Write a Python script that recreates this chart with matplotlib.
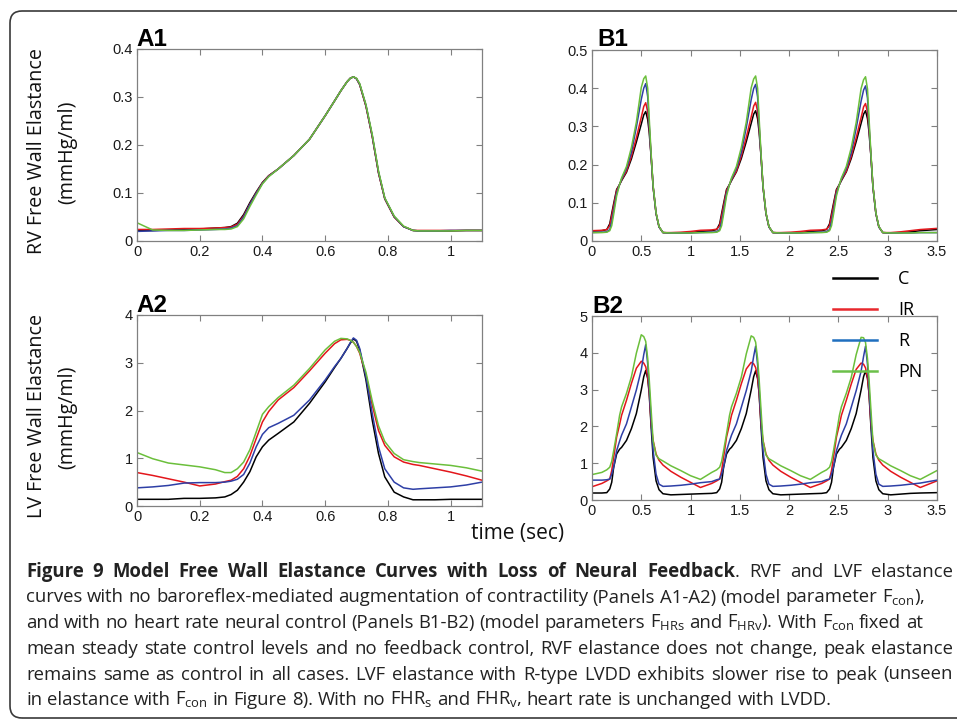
import matplotlib
matplotlib.use('Agg')
import matplotlib.pyplot as plt
from matplotlib.lines import Line2D
from matplotlib.patches import FancyBboxPatch
from matplotlib.transforms import IdentityTransform

W, H = 957, 720
plt.rcParams['font.family'] = ['Liberation Sans', 'DejaVu Sans']
OPEN = ['Open Sans', 'DejaVu Sans']

# ---------------- data ----------------
SERIES = ['C', 'IR', 'R', 'PN']

A_T = [0.00, 0.05, 0.10, 0.15, 0.20, 0.25, 0.28, 0.30, 0.32, 0.34, 0.36, 0.38, 0.40,
       0.42, 0.45, 0.50, 0.55, 0.60, 0.63, 0.65, 0.67, 0.68, 0.69, 0.70, 0.71, 0.73,
       0.75, 0.77, 0.79, 0.82, 0.85, 0.88, 0.90, 0.95, 1.00, 1.05, 1.10]

A1_C = [0.022, 0.022, 0.023, 0.024, 0.025, 0.027, 0.028, 0.030, 0.037, 0.055, 0.080, 0.102, 0.122,
        0.136, 0.150, 0.178, 0.212, 0.261, 0.292, 0.313, 0.332, 0.339, 0.342, 0.338, 0.326, 0.281,
        0.218, 0.142, 0.088, 0.050, 0.030, 0.022, 0.021, 0.021, 0.021, 0.022, 0.022]
A1_IR = [0.024, 0.024, 0.025, 0.026, 0.026, 0.027, 0.028, 0.029, 0.035, 0.052, 0.077, 0.100, 0.121,
         0.136, 0.150, 0.178, 0.212, 0.261, 0.292, 0.313, 0.332, 0.339, 0.342, 0.338, 0.326, 0.281,
         0.218, 0.142, 0.088, 0.050, 0.030, 0.022, 0.022, 0.022, 0.022, 0.022, 0.022]
A1_R = [0.020, 0.021, 0.022, 0.022, 0.023, 0.024, 0.025, 0.027, 0.032, 0.050, 0.076, 0.099, 0.120,
        0.135, 0.150, 0.178, 0.212, 0.261, 0.292, 0.313, 0.332, 0.339, 0.342, 0.338, 0.327, 0.283,
        0.220, 0.144, 0.089, 0.051, 0.030, 0.022, 0.021, 0.021, 0.022, 0.022, 0.022]
A1_PN = [0.038, 0.023, 0.022, 0.022, 0.023, 0.024, 0.024, 0.025, 0.030, 0.046, 0.072, 0.096, 0.119,
         0.134, 0.150, 0.178, 0.212, 0.261, 0.292, 0.313, 0.332, 0.339, 0.342, 0.339, 0.328, 0.284,
         0.222, 0.146, 0.090, 0.052, 0.031, 0.022, 0.021, 0.021, 0.021, 0.022, 0.022]

A2_C = [0.14, 0.14, 0.14, 0.16, 0.16, 0.17, 0.19, 0.24, 0.33, 0.50, 0.72, 1.03, 1.24,
        1.38, 1.52, 1.76, 2.15, 2.60, 2.90, 3.09, 3.30, 3.41, 3.50, 3.45, 3.27, 2.64,
        1.80, 1.10, 0.61, 0.29, 0.19, 0.13, 0.13, 0.13, 0.14, 0.14, 0.14]
A2_IR = [0.70, 0.64, 0.57, 0.50, 0.42, 0.46, 0.51, 0.54, 0.62, 0.78, 1.05, 1.41, 1.76,
         1.98, 2.22, 2.48, 2.83, 3.20, 3.40, 3.48, 3.49, 3.47, 3.43, 3.34, 3.20, 2.75,
         2.12, 1.58, 1.27, 1.03, 0.92, 0.87, 0.85, 0.78, 0.71, 0.63, 0.54]
A2_R = [0.38, 0.40, 0.43, 0.48, 0.49, 0.49, 0.50, 0.52, 0.56, 0.66, 0.90, 1.24, 1.50,
        1.64, 1.73, 1.90, 2.22, 2.64, 2.92, 3.09, 3.30, 3.42, 3.52, 3.47, 3.30, 2.71,
        1.94, 1.24, 0.78, 0.50, 0.38, 0.35, 0.36, 0.38, 0.40, 0.44, 0.50]
A2_PN = [1.12, 0.99, 0.90, 0.86, 0.82, 0.76, 0.70, 0.70, 0.78, 0.92, 1.18, 1.55, 1.92,
         2.08, 2.27, 2.53, 2.88, 3.27, 3.45, 3.51, 3.50, 3.47, 3.43, 3.34, 3.22, 2.80,
         2.20, 1.68, 1.35, 1.10, 0.97, 0.93, 0.91, 0.88, 0.85, 0.80, 0.73]

B_T = ([0.00, 0.10, 0.15, 0.18, 0.20, 0.22, 0.25, 0.28, 0.30, 0.35, 0.40, 0.45, 0.50,
        0.525, 0.545, 0.565, 0.58, 0.60, 0.62, 0.65, 0.68, 0.72, 0.80, 0.90, 1.00, 1.10]
       + [1.215, 1.265, 1.295, 1.315, 1.335, 1.365, 1.395, 1.415, 1.465, 1.515, 1.565, 1.615,
          1.64, 1.66, 1.68, 1.695, 1.715, 1.735, 1.765, 1.795, 1.835, 1.915, 2.015, 2.115, 2.215]
       + [2.33, 2.38, 2.41, 2.43, 2.45, 2.48, 2.51, 2.53, 2.58, 2.63, 2.68, 2.73, 2.755,
          2.775, 2.795, 2.81, 2.83, 2.85, 2.88, 2.91, 2.95, 3.03, 3.13, 3.23, 3.33, 3.50])

B1_C = ([0.026, 0.027, 0.030, 0.045, 0.072, 0.098, 0.135, 0.148, 0.158, 0.180, 0.215, 0.259, 0.306,
         0.330, 0.339, 0.318, 0.285, 0.220, 0.142, 0.072, 0.037, 0.022, 0.021, 0.021, 0.022, 0.025]
        + [0.027, 0.030, 0.045, 0.072, 0.098, 0.135, 0.148, 0.158, 0.181, 0.216, 0.260, 0.308,
           0.332, 0.341, 0.320, 0.286, 0.221, 0.142, 0.072, 0.037, 0.022, 0.021, 0.021, 0.022, 0.025]
        + [0.027, 0.030, 0.045, 0.072, 0.098, 0.135, 0.148, 0.158, 0.181, 0.216, 0.260, 0.308,
           0.332, 0.341, 0.320, 0.286, 0.221, 0.142, 0.072, 0.037, 0.022, 0.021, 0.022, 0.024, 0.027, 0.030])
B1_IR = ([0.027, 0.028, 0.030, 0.040, 0.065, 0.092, 0.132, 0.148, 0.160, 0.183, 0.222, 0.270, 0.324,
          0.352, 0.362, 0.338, 0.298, 0.222, 0.142, 0.072, 0.037, 0.022, 0.022, 0.023, 0.025, 0.028]
         + [0.029, 0.031, 0.040, 0.065, 0.092, 0.132, 0.148, 0.160, 0.183, 0.223, 0.271, 0.325,
            0.353, 0.363, 0.339, 0.298, 0.222, 0.142, 0.072, 0.037, 0.022, 0.022, 0.023, 0.025, 0.028]
         + [0.029, 0.031, 0.040, 0.065, 0.092, 0.132, 0.148, 0.160, 0.183, 0.222, 0.270, 0.323,
            0.351, 0.360, 0.337, 0.297, 0.222, 0.142, 0.072, 0.037, 0.022, 0.022, 0.024, 0.027, 0.030, 0.033])
B1_R = ([0.022, 0.023, 0.024, 0.030, 0.050, 0.080, 0.125, 0.148, 0.162, 0.190, 0.232, 0.298, 0.371,
         0.400, 0.412, 0.378, 0.306, 0.222, 0.142, 0.072, 0.037, 0.022, 0.021, 0.021, 0.021, 0.022]
        + [0.023, 0.024, 0.030, 0.050, 0.080, 0.125, 0.148, 0.162, 0.190, 0.232, 0.297, 0.370,
           0.399, 0.410, 0.377, 0.306, 0.222, 0.142, 0.072, 0.037, 0.022, 0.021, 0.021, 0.021, 0.022]
        + [0.023, 0.024, 0.030, 0.050, 0.080, 0.125, 0.148, 0.162, 0.190, 0.231, 0.295, 0.366,
           0.395, 0.406, 0.374, 0.305, 0.222, 0.142, 0.072, 0.037, 0.022, 0.021, 0.021, 0.021, 0.022, 0.022])
B1_PN = ([0.022, 0.022, 0.023, 0.027, 0.040, 0.070, 0.118, 0.148, 0.165, 0.195, 0.245, 0.311, 0.402,
          0.425, 0.432, 0.400, 0.324, 0.228, 0.145, 0.074, 0.038, 0.022, 0.021, 0.021, 0.021, 0.022]
         + [0.022, 0.023, 0.027, 0.040, 0.070, 0.118, 0.148, 0.165, 0.195, 0.245, 0.311, 0.401,
            0.424, 0.432, 0.400, 0.324, 0.228, 0.145, 0.074, 0.038, 0.022, 0.021, 0.021, 0.021, 0.022]
         + [0.022, 0.023, 0.027, 0.040, 0.070, 0.118, 0.148, 0.165, 0.195, 0.244, 0.310, 0.399,
            0.422, 0.430, 0.398, 0.323, 0.228, 0.145, 0.074, 0.038, 0.022, 0.021, 0.021, 0.021, 0.022, 0.022])

B2_C = ([0.19, 0.19, 0.20, 0.30, 0.48, 0.89, 1.25, 1.38, 1.43, 1.62, 1.94, 2.35, 2.99,
         3.35, 3.52, 3.30, 2.90, 1.98, 1.16, 0.52, 0.28, 0.17, 0.14, 0.15, 0.16, 0.17]
        + [0.18, 0.20, 0.30, 0.48, 0.89, 1.25, 1.38, 1.43, 1.62, 1.94, 2.35, 2.99,
           3.35, 3.51, 3.30, 2.90, 1.98, 1.16, 0.52, 0.28, 0.17, 0.14, 0.15, 0.16, 0.17]
        + [0.18, 0.20, 0.30, 0.48, 0.89, 1.25, 1.38, 1.43, 1.62, 1.94, 2.35, 2.99,
           3.35, 3.51, 3.30, 2.90, 1.98, 1.16, 0.52, 0.28, 0.17, 0.14, 0.16, 0.18, 0.19, 0.20])
B2_IR = ([0.36, 0.45, 0.52, 0.57, 0.80, 1.16, 1.71, 2.05, 2.30, 2.71, 3.17, 3.58, 3.77,
          3.72, 3.62, 3.35, 2.95, 2.07, 1.62, 1.25, 1.08, 0.95, 0.78, 0.62, 0.48, 0.34]
         + [0.45, 0.52, 0.57, 0.80, 1.16, 1.71, 2.05, 2.30, 2.71, 3.16, 3.56, 3.74,
            3.70, 3.60, 3.33, 2.93, 2.07, 1.62, 1.25, 1.08, 0.95, 0.78, 0.62, 0.48, 0.34]
         + [0.45, 0.52, 0.57, 0.80, 1.16, 1.71, 2.05, 2.30, 2.71, 3.15, 3.55, 3.72,
            3.69, 3.59, 3.32, 2.92, 2.07, 1.62, 1.25, 1.08, 0.95, 0.78, 0.62, 0.48, 0.34, 0.52])
B2_R = ([0.54, 0.54, 0.55, 0.57, 0.70, 0.89, 1.34, 1.60, 1.76, 2.07, 2.53, 2.99, 3.54,
         3.95, 4.22, 3.70, 3.05, 2.17, 1.34, 0.70, 0.43, 0.37, 0.38, 0.40, 0.43, 0.47]
        + [0.50, 0.55, 0.57, 0.70, 0.89, 1.34, 1.60, 1.76, 2.07, 2.52, 2.97, 3.50,
           3.90, 4.18, 3.68, 3.05, 2.17, 1.34, 0.70, 0.43, 0.37, 0.38, 0.40, 0.43, 0.47]
        + [0.50, 0.55, 0.57, 0.70, 0.89, 1.34, 1.60, 1.76, 2.07, 2.52, 2.97, 3.50,
           3.90, 4.18, 3.68, 3.05, 2.17, 1.34, 0.70, 0.43, 0.37, 0.38, 0.40, 0.43, 0.46, 0.54])
B2_PN = ([0.69, 0.75, 0.82, 0.89, 1.05, 1.34, 1.80, 2.30, 2.53, 2.90, 3.35, 3.99, 4.49,
          4.44, 4.31, 3.85, 3.30, 2.44, 1.60, 1.22, 1.12, 1.06, 0.93, 0.80, 0.66, 0.56]
         + [0.75, 0.82, 0.89, 1.05, 1.34, 1.80, 2.30, 2.53, 2.90, 3.34, 3.97, 4.46,
            4.42, 4.29, 3.84, 3.30, 2.44, 1.60, 1.22, 1.12, 1.06, 0.93, 0.80, 0.66, 0.56]
         + [0.75, 0.82, 0.89, 1.05, 1.34, 1.80, 2.30, 2.53, 2.90, 3.33, 3.95, 4.42,
            4.41, 4.28, 3.84, 3.30, 2.44, 1.60, 1.22, 1.12, 1.06, 0.93, 0.80, 0.66, 0.56, 0.80])

A_XTICKS = [0, 0.2, 0.4, 0.6, 0.8, 1.0]
A_XTICKLABELS = ['0', '0.2', '0.4', '0.6', '0.8', '1']
B_XTICKS = [0, 0.5, 1.0, 1.5, 2.0, 2.5, 3.0, 3.5]
B_XTICKLABELS = ['0', '0.5', '1', '1.5', '2', '2.5', '3', '3.5']
A1_YTICKS = [0, 0.1, 0.2, 0.3, 0.4]
A1_YTICKLABELS = ['0', '0.1', '0.2', '0.3', '0.4']
B1_YTICKS = [0, 0.1, 0.2, 0.3, 0.4, 0.5]
B1_YTICKLABELS = ['0', '0.1', '0.2', '0.3', '0.4', '0.5']
A2_YTICKS = [0, 1, 2, 3, 4]
A2_YTICKLABELS = ['0', '1', '2', '3', '4']
B2_YTICKS = [0, 1, 2, 3, 4, 5]
B2_YTICKLABELS = ['0', '1', '2', '3', '4', '5']

COLORS = {'C': '#000000', 'IR': '#e3161b', 'R': '#2e3fa6', 'PN': '#6bbf3b'}
LEG_COLORS = {'C': '#000000', 'IR': '#e8282d', 'R': '#1f6fbf', 'PN': '#6cc04a'}

CAPTION = [
    [("Figure 9 Model Free Wall Elastance Curves with Loss of Neural Feedback", 'bold'),
     (". RVF and LVF elastance", 'normal')],
    [("curves with no baroreflex-mediated augmentation of contractility (Panels A1-A2) "
      "(model parameter F$_\\mathregular{con}$),", 'normal')],
    [("and with no heart rate neural control (Panels B1-B2) (model parameters "
      "F$_\\mathregular{HRs}$ and F$_\\mathregular{HRv}$). With F$_\\mathregular{con}$ fixed at", 'normal')],
    [("mean steady state control levels and no feedback control, RVF elastance does not "
      "change, peak elastance", 'normal')],
    [("remains same as control in all cases. LVF elastance with R-type LVDD exhibits slower "
      "rise to peak (unseen", 'normal')],
    [("in elastance with F$_\\mathregular{con}$ in Figure 8). With no FHR$_\\mathregular{s}$ "
      "and FHR$_\\mathregular{v}$, heart rate is unchanged with LVDD.", 'normal')],
]
CAP_BASELINES = [577, 602.5, 628, 654, 679.5, 705]
CAP_ENDS = [953, None, None, 953, 953, None]
CAP_MAX_END = 950
CAP_X0 = 26
LINE6_END = 857

# ---------------- figure ----------------
fig = plt.figure(figsize=(W / 100, H / 100), dpi=100)
fig.patch.set_facecolor('white')


def fx(px):
    return px / W


def fy(py):
    return 1 - py / H


def make_ax(l, t, r, b):
    return fig.add_axes([fx(l), fy(b), (r - l) / W, (b - t) / H])


def style(ax, xlim, ylim, xt, xtl, yt, ytl):
    ax.set_xlim(xlim)
    ax.set_ylim(ylim)
    ax.set_xticks(xt)
    ax.set_xticklabels(xtl)
    ax.set_yticks(yt)
    ax.set_yticklabels(ytl)
    ax.tick_params(direction='in', top=True, right=True, length=4, width=0.8,
                   color='#808080', labelsize=10.5, labelcolor='#1a1a1a', pad=3)
    for s in ax.spines.values():
        s.set_color('#808080')
        s.set_linewidth(0.9)


axA1 = make_ax(137, 49, 482, 241)
axB1 = make_ax(592, 50, 937, 241)
axA2 = make_ax(137, 315, 482, 506)
axB2 = make_ax(592, 316, 937, 500)

panels = [
    (axA1, A_T, [A1_C, A1_IR, A1_R, A1_PN]),
    (axB1, B_T, [B1_C, B1_IR, B1_R, B1_PN]),
    (axA2, A_T, [A2_C, A2_IR, A2_R, A2_PN]),
    (axB2, B_T, [B2_C, B2_IR, B2_R, B2_PN]),
]
for ax, t, ys in panels:
    for name, y in zip(SERIES, ys):
        n = min(len(t), len(y))
        ax.plot(t[:n], y[:n], color=COLORS[name], lw=1.1, solid_joinstyle='round')

style(axA1, (0, 1.1), (0, 0.4), A_XTICKS, A_XTICKLABELS, A1_YTICKS, A1_YTICKLABELS)
style(axB1, (0, 3.5), (0, 0.5), B_XTICKS, B_XTICKLABELS, B1_YTICKS, B1_YTICKLABELS)
style(axA2, (0, 1.1), (0, 4), A_XTICKS, A_XTICKLABELS, A2_YTICKS, A2_YTICKLABELS)
style(axB2, (0, 3.5), (0, 5), B_XTICKS, B_XTICKLABELS, B2_YTICKS, B2_YTICKLABELS)

# panel labels
for lab, px, py in [('A1', 136, 46), ('B1', 597, 46), ('A2', 136, 312), ('B2', 592, 313)]:
    fig.text(fx(px), fy(py), lab, fontsize=17.5, fontweight='bold', ha='left', va='baseline',
             family=['Liberation Sans', 'DejaVu Sans'])

# y labels
for txt, px, py in [('RV Free Wall Elastance', 37, 151), ('(mmHg/ml)', 67, 152),
                    ('LV Free Wall Elastance', 37, 416), ('(mmHg/ml)', 67, 417)]:
    fig.text(fx(px), fy(py), txt, rotation=90, ha='center', va='center',
             fontsize=14.2, family=OPEN, color='#111111')

fig.text(fx(518), fy(534), 'time (sec)', ha='center', va='center', fontsize=15,
         family=OPEN, color='#111111')

# legend
handles = [Line2D([], [], color=LEG_COLORS[k], lw=1.8) for k in SERIES]
fig.legend(handles, SERIES, loc='upper left', bbox_to_anchor=(fx(833), fy(270)),
           bbox_transform=fig.transFigure, frameon=False, borderpad=0, borderaxespad=0,
           handlelength=2.45, handletextpad=1.15, labelspacing=0.72,
           prop={'family': OPEN, 'size': 13})

# border
border = FancyBboxPatch((10, 2), 975, 707, boxstyle='round,pad=0,rounding_size=12',
                        transform=IdentityTransform(), fill=False, ec='#3a3a3a', lw=1.2)
fig.add_artist(border)

# caption
fig.canvas.draw()
rend = fig.canvas.get_renderer()


def measure(s, size, weight):
    t = fig.text(0, 0, s, fontsize=size, fontweight=weight, family=OPEN)
    w = t.get_window_extent(renderer=rend).width
    t.remove()
    return w


def tokens_of(line):
    toks = []
    for seg, weight in line:
        parts = seg.split(' ')
        for i, p in enumerate(parts):
            if p == '':
                continue
            glued = (i == 0 and len(toks) > 0 and not seg.startswith(' '))
            toks.append((p, weight, glued))
    return toks


base = 12.0
sp0 = measure('x x', base, 'normal') - measure('xx', base, 'normal')
t6 = tokens_of(CAPTION[5])
w6 = sum(measure(p, base, wt) for p, wt, g in t6)
n6 = sum(1 for (p, wt, g) in t6[1:] if not g)
CAP_FS = 0.97 * base * (LINE6_END - CAP_X0) / (w6 + n6 * sp0)

space = measure('x x', CAP_FS, 'normal') - measure('xx', CAP_FS, 'normal')
for line, yb, xend in zip(CAPTION, CAP_BASELINES, CAP_ENDS):
    toks = tokens_of(line)
    widths = [measure(p, CAP_FS, wt) for p, wt, g in toks]
    ngaps = sum(1 for (p, wt, g) in toks[1:] if not g)
    gap = space
    natural_end = CAP_X0 + sum(widths) + ngaps * space
    if ngaps > 0:
        if xend is not None:
            gap = (xend - CAP_X0 - sum(widths)) / ngaps
        elif natural_end > CAP_MAX_END:
            gap = (CAP_MAX_END - CAP_X0 - sum(widths)) / ngaps
    x = CAP_X0
    for i, ((p, wt, g), w) in enumerate(zip(toks, widths)):
        if i > 0 and not g:
            x += gap
        fig.text(fx(x), fy(yb), p, fontsize=CAP_FS, fontweight=wt, family=OPEN,
                 ha='left', va='baseline', color='#222222')
        x += w

fig.savefig('out.png', dpi=100, facecolor='white')
